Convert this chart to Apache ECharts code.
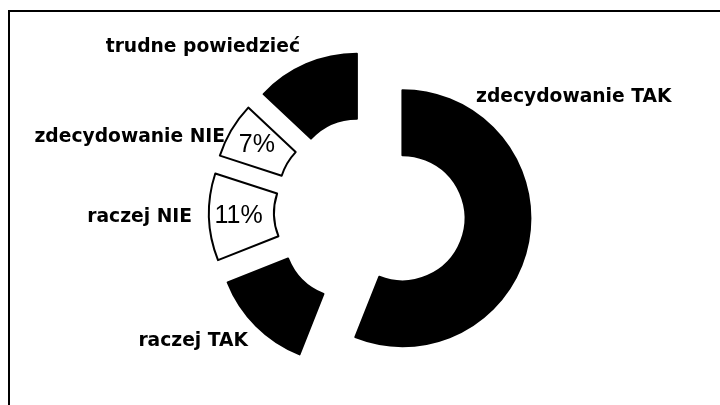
<!DOCTYPE html>
<html><head><meta charset="utf-8">
<script src="https://cdn.jsdelivr.net/npm/echarts@6/dist/echarts.min.js"></script>
<style>html,body{margin:0;padding:0;background:#fff}#c{width:720px;height:405px}</style>
</head><body><div id="c"></div>
<script>
// Data
const categories = ['zdecydowanie TAK', 'raczej TAK', 'raczej NIE', 'zdecydowanie NIE', 'trudne powiedzieć'];
const values = [56, 13, 11, 7, 13];

// Styles / layout (kept apart from data)
const sliceColors = ['#000000', '#000000', '#ffffff', '#ffffff', '#000000'];
const nameLabelLayout = [
  { x: 476, y: 97, align: 'left' },
  { x: 248, y: 341, align: 'right' },
  { x: 192, y: 217, align: 'right' },
  { x: 225, y: 137, align: 'right' },
  { x: 300, y: 47, align: 'right' }
];

const chart = echarts.init(document.getElementById('c'), null, { renderer: 'canvas' });
const pieCenter = [370, 212];
const pieRadius = [63, 128];

chart.setOption({
  animation: false,
  backgroundColor: '#ffffff',
  graphic: [{
    type: 'polyline', silent: true,
    shape: { points: [[9, 420], [9, 11], [730, 11]] },
    style: { fill: 'none', stroke: '#000', lineWidth: 2 }
  }],
  series: [
    {
      type: 'pie',
      center: pieCenter,
      radius: pieRadius,
      startAngle: 90,
      clockwise: true,
      selectedMode: 'multiple',
      selectedOffset: 33,
      avoidLabelOverlap: false,
      silent: true,
      data: categories.map((n, i) => ({
        name: n, value: values[i], selected: true,
        itemStyle: { color: sliceColors[i] }
      })),
      itemStyle: { borderColor: '#000', borderWidth: 2 },
      label: {
        show: true, position: 'inside',
        formatter: p => p.value + '%',
        color: '#000', fontFamily: 'Liberation Sans', fontSize: 25
      },
      labelLine: { show: false },
      emphasis: { disabled: true }
    },
    {
      type: 'pie',
      center: pieCenter,
      radius: pieRadius,
      startAngle: 90,
      clockwise: true,
      silent: true,
      avoidLabelOverlap: false,
      data: categories.map((n, i) => ({ name: n, value: values[i] })),
      itemStyle: { color: 'rgba(0,0,0,0)', borderWidth: 0 },
      label: {
        show: true, position: 'outside',
        formatter: '{b}',
        color: '#000', fontFamily: 'DejaVu Sans', fontWeight: 'bold', fontSize: 18.7
      },
      labelLine: { show: false },
      labelLayout: p => Object.assign({ verticalAlign: 'middle' }, nameLabelLayout[p.dataIndex]),
      emphasis: { disabled: true }
    }
  ]
});
</script>
</body></html>
